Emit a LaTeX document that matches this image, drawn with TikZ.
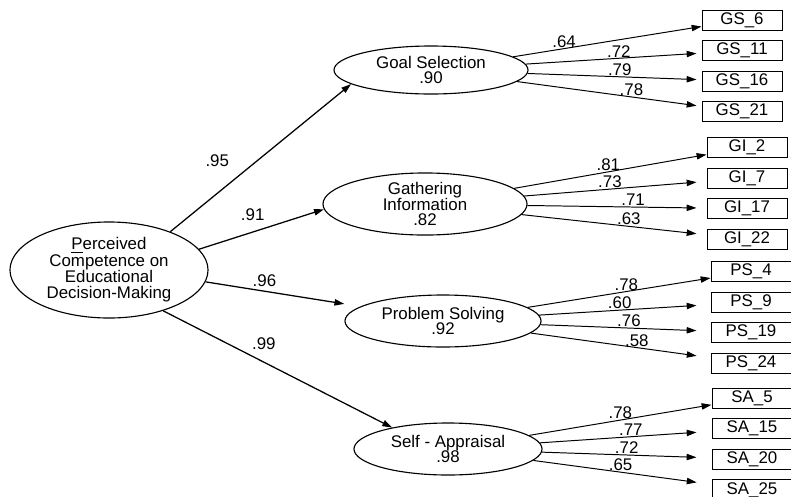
\documentclass[tikz,border=0pt]{standalone}
\usepackage{fontspec}
\setmainfont{Liberation Sans}
\usepackage{tikz}
\usetikzlibrary{shapes.geometric, arrows.meta, positioning}
\tikzstyle{latent} = [ellipse, draw=black, line width=0.8pt, align=center, inner sep=0pt, font=\fontsize{12}{11.2}\selectfont]
\tikzstyle{indicator} = [rectangle, draw=black, line width=0.7pt, minimum width=2cm, minimum height=0.5cm, inner sep=0pt, font=\fontsize{12}{14}\selectfont]
\tikzstyle{arrow} = [line width=0.9pt, -{Triangle[length=7pt, width=4.5pt]}]
\tikzstyle{loading} = [line width=0.7pt, -{Triangle[length=7pt, width=4.5pt]}]
\tikzstyle{coef} = [anchor=south, inner sep=0.5pt, font=\fontsize{12}{14}\selectfont]

\begin{document}
\begin{tikzpicture}[x=0.025cm, y=-0.025cm, node distance=0.24cm]
    \useasboundingbox (0,0) rectangle (791,496);
    % latent variables
    \node (pce) [latent, minimum width=4.95cm, minimum height=2.4cm, font=\fontsize{12}{11.6}\selectfont] at (109,270) {\underline{P}erceived\\Competence on\\Educational\\Decision-Making};
    \node (gsel) [latent, minimum width=4.85cm, minimum height=1.2cm] at (431,70) {Goal Selection\\.90};
    \node (ginf) [latent, minimum width=5.1cm, minimum height=1.55cm] at (425,204) {Gathering\\Information\\.82};
    \node (psol) [latent, minimum width=4.9cm, minimum height=1.3cm] at (443,321) {Problem Solving\\.92};
    \node (sapp) [latent, minimum width=4.7cm, minimum height=1.3cm] at (448,449) {Self - Appraisal\\.98};

    % indicators
    \node (gs6) [indicator] at (742,20) {GS\_6};
    \node (gs11) [indicator, below=of gs6] {GS\_11};
    \node (gs16) [indicator, below=of gs11] {GS\_16};
    \node (gs21) [indicator, below=of gs16] {GS\_21};
    \node (gi2) [indicator] at (747,147.5) {GI\_2};
    \node (gi7) [indicator, below=of gi2] {GI\_7};
    \node (gi17) [indicator, below=of gi7] {GI\_17};
    \node (gi22) [indicator, below=of gi17] {GI\_22};
    \node (ps4) [indicator] at (751,271.5) {PS\_4};
    \node (ps9) [indicator, below=of ps4] {PS\_9};
    \node (ps19) [indicator, below=of ps9] {PS\_19};
    \node (ps24) [indicator, below=of ps19] {PS\_24};
    \node (sa5) [indicator] at (752,398) {SA\_5};
    \node (sa15) [indicator, below=of sa5] {SA\_15};
    \node (sa20) [indicator, below=of sa15] {SA\_20};
    \node (sa25) [indicator, below=of sa20] {SA\_25};

    % second order paths
    \draw[arrow] (pce.32) -- node[coef, pos=.26, yshift=.63cm] (c95) {.95} (gsel.190);
    \draw[arrow] (pce.13) -- node[coef, pos=.43, yshift=.25cm] (c91) {.91} (ginf.183);
    \draw[arrow, shorten >=0.41cm] (pce.-7) -- node[coef, pos=.38, yshift=.08cm] (c96) {.96} (psol.170);
    \draw[arrow] (pce.-37) -- node[coef, pos=.44, yshift=.28cm] (c99) {.99} (sapp.159);

    % loadings
    \draw[loading] (gsel) -- node[coef, pos=.27] (c64) {.64} (gs6);
    \draw[loading, shorten >=0.125cm] (gsel) -- node[coef, pos=.53] (c72) {.72} (gs11);
    \draw[loading, shorten >=0.125cm] (gsel) -- node[coef, pos=.53] (c79) {.79} (gs16);
    \draw[loading, shorten >=0.125cm] (gsel) -- node[coef, pos=.62] (c78a) {.78} (gs21);

    \draw[loading] (ginf) -- node[coef, pos=.49] (c81) {.81} (gi2);
    \draw[loading, shorten >=0.25cm] (ginf) -- node[coef, pos=.47] (c73) {.73} (gi7);
    \draw[loading, shorten >=0.25cm] (ginf) -- node[coef, pos=.59] (c71) {.71} (gi17);
    \draw[loading, shorten >=0.25cm] (ginf) -- node[coef, pos=.58] (c63) {.63} (gi22);

    \draw[loading] (psol) -- node[coef, pos=.54] (c78b) {.78} (ps4);
    \draw[loading, shorten >=0.35cm] (psol) -- node[coef, pos=.47] (c60) {.60} (ps9);
    \draw[loading, shorten >=0.35cm] (psol) -- node[coef, pos=.52] (c76) {.76} (ps19);
    \draw[loading, shorten >=0.35cm] (psol) -- node[coef, pos=.59] (c58) {.58} (ps24);

    \draw[loading] (sapp) -- node[coef, pos=.5] (c78c) {.78} (sa5);
    \draw[loading, shorten >=0.375cm] (sapp) -- node[coef, pos=.53] (c77) {.77} (sa15);
    \draw[loading, shorten >=0.375cm] (sapp) -- node[coef, pos=.5] (c72b) {.72} (sa20);
    \draw[loading, shorten >=0.375cm] (sapp) -- node[coef, pos=.49] (c65) {.65} (sa25);
\end{tikzpicture}
\end{document}
